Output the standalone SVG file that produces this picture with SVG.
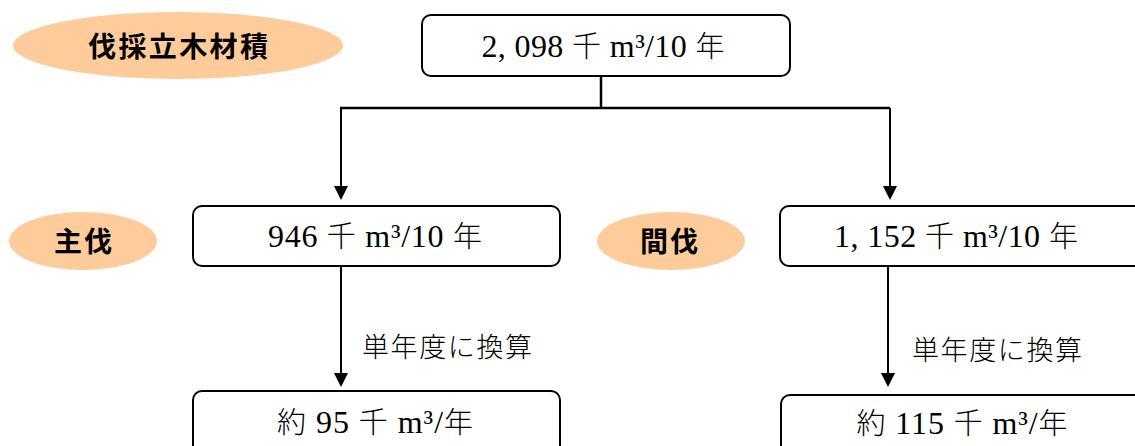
<svg xmlns="http://www.w3.org/2000/svg" width="1135" height="446" viewBox="0 0 1135 446">
<defs>
<style>
.lbl{fill:#fecc9a;stroke:none}
.lt{font-family:"Noto Sans CJK JP",sans-serif;font-weight:700;font-size:28px;fill:#000;text-anchor:middle}
.box{fill:#fff;stroke:#000;stroke-width:2}
.bt{font-family:"Liberation Serif","Noto Sans CJK JP",serif;font-size:32px;fill:#000;text-anchor:middle}
.bt .k{font-family:"Noto Sans CJK JP",sans-serif;font-weight:300;font-size:29px}
.nt{font-family:"Noto Sans CJK JP",sans-serif;font-weight:300;font-size:27px;fill:#000;text-anchor:middle}
.ln{fill:none;stroke:#000;stroke-width:2.5}
.ln2{fill:none;stroke:#000;stroke-width:2}
</style>
</defs>
<rect width="1135" height="446" fill="#fff"/>
<g id="connectors">
<path class="ln" d="M601,76 V108"/>
<path class="ln" d="M340,108 H890"/>
<path class="ln2" d="M341,108 V186"/>
<path class="ln2" d="M890,108 V186"/>
<path d="M334,186 L348,186 L341,200 Z" fill="#000"/>
<path d="M883,186 L897,186 L890,200 Z" fill="#000"/>
<path class="ln2" d="M341,266 V373"/>
<path d="M334,373 L348,373 L341,387 Z" fill="#000"/>
<path class="ln2" d="M888,266 V373"/>
<path d="M881,373 L895,373 L888,387 Z" fill="#000"/>
<text class="nt" x="447" y="357" textLength="170" lengthAdjust="spacing">単年度に換算</text>
<text class="nt" x="997" y="360" textLength="170" lengthAdjust="spacing">単年度に換算</text>
</g>
<g id="label-total">
<ellipse class="lbl" cx="178" cy="45.5" rx="165" ry="33.5"/>
<text class="lt" x="178" y="57" textLength="180" lengthAdjust="spacing">伐採立木材積</text>
</g>
<g id="node-total">
<rect class="box" x="422" y="15" width="368" height="61" rx="9"/>
<text class="bt" x="603" y="57" textLength="243" lengthAdjust="spacing">2, 098 <tspan class="k">千</tspan> m³/10 <tspan class="k">年</tspan></text>
</g>
<g id="label-shubatsu">
<ellipse class="lbl" cx="83" cy="241" rx="74" ry="29"/>
<text class="lt" x="83" y="252" textLength="58" lengthAdjust="spacing">主伐</text>
</g>
<g id="node-shubatsu">
<rect class="box" x="193" y="206" width="367" height="60" rx="9"/>
<text class="bt" x="375" y="247" textLength="214" lengthAdjust="spacing">946 <tspan class="k">千</tspan> m³/10 <tspan class="k">年</tspan></text>
</g>
<g id="label-kanbatsu">
<ellipse class="lbl" cx="671" cy="241" rx="74" ry="29"/>
<text class="lt" x="669" y="252" textLength="58" lengthAdjust="spacing">間伐</text>
</g>
<g id="node-kanbatsu">
<rect class="box" x="780" y="206" width="365" height="60" rx="9"/>
<text class="bt" x="956" y="247" textLength="244" lengthAdjust="spacing">1, 152 <tspan class="k">千</tspan> m³/10 <tspan class="k">年</tspan></text>
</g>
<g id="node-shubatsu-year">
<rect class="box" x="193" y="391" width="367" height="70" rx="9"/>
<text class="bt" x="375" y="433" textLength="196" lengthAdjust="spacing"><tspan class="k">約</tspan> 95 <tspan class="k">千</tspan> m³/<tspan class="k">年</tspan></text>
</g>
<g id="node-kanbatsu-year">
<rect class="box" x="781" y="395" width="365" height="70" rx="9"/>
<text class="bt" x="962" y="434" textLength="211" lengthAdjust="spacing"><tspan class="k">約</tspan> 115 <tspan class="k">千</tspan> m³/<tspan class="k">年</tspan></text>
</g>
</svg>
